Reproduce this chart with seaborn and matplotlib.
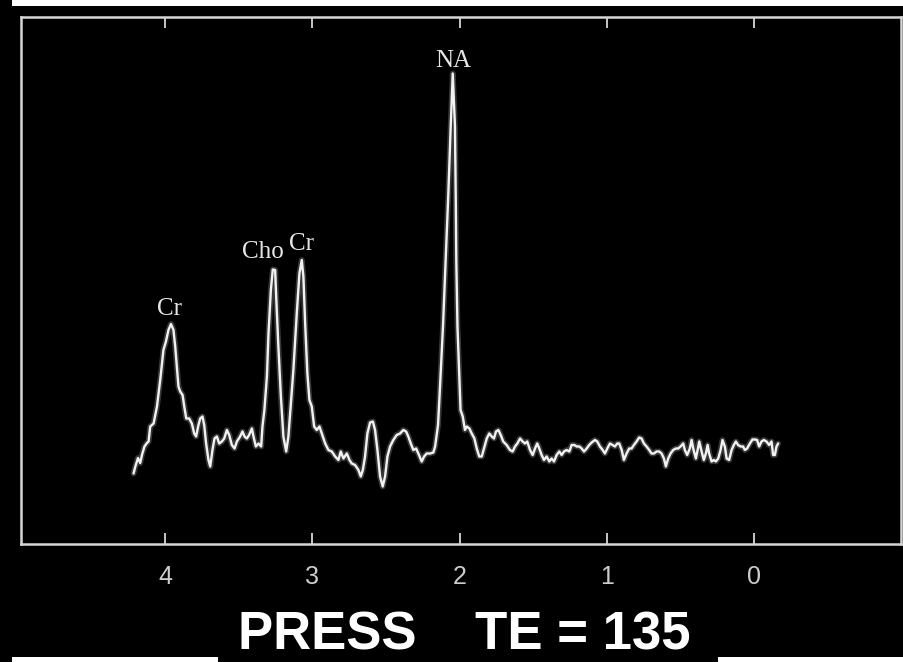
import matplotlib
matplotlib.use("Agg")
import matplotlib.pyplot as plt
import pandas as pd
import seaborn as sns
from matplotlib.patches import Rectangle

# Chemical shift (ppm) and signal amplitude (arbitrary units) of the spectrum
ppm = [
    4.215, 4.204, 4.185, 4.170, 4.158, 4.141, 4.124, 4.113, 4.102, 4.079,
    4.056, 4.045, 4.034, 4.022, 4.012, 3.995, 3.978, 3.961, 3.944, 3.932,
    3.921, 3.910, 3.898, 3.882, 3.869, 3.857, 3.837, 3.819, 3.803, 3.790,
    3.774, 3.762, 3.747, 3.735, 3.722, 3.706, 3.694, 3.679, 3.665, 3.649,
    3.633, 3.615, 3.599, 3.581, 3.565, 3.547, 3.529, 3.513, 3.491, 3.475,
    3.461, 3.445, 3.430, 3.411, 3.400, 3.384, 3.366, 3.348, 3.339, 3.326,
    3.309, 3.298, 3.282, 3.269, 3.253, 3.246, 3.231, 3.214, 3.197, 3.178,
    3.163, 3.146, 3.129, 3.106, 3.088, 3.072, 3.061, 3.049, 3.034, 3.020,
    3.004, 2.988, 2.970, 2.952, 2.936, 2.913, 2.891, 2.868, 2.845, 2.823,
    2.807, 2.789, 2.766, 2.748, 2.732, 2.710, 2.687, 2.671, 2.657, 2.642,
    2.626, 2.608, 2.589, 2.574, 2.558, 2.540, 2.522, 2.506, 2.490, 2.472,
    2.450, 2.427, 2.404, 2.382, 2.363, 2.348, 2.331, 2.314, 2.295, 2.280,
    2.257, 2.241, 2.223, 2.200, 2.178, 2.166, 2.146, 2.132, 2.112, 2.095,
    2.076, 2.060, 2.046, 2.031, 2.026, 2.022, 2.014, 2.001, 1.993, 1.978,
    1.963, 1.951, 1.933, 1.917, 1.899, 1.883, 1.866, 1.849, 1.834, 1.815,
    1.798, 1.781, 1.766, 1.752, 1.736, 1.720, 1.703, 1.680, 1.657, 1.639,
    1.623, 1.607, 1.589, 1.571, 1.555, 1.540, 1.521, 1.503, 1.487, 1.472,
    1.458, 1.442, 1.426, 1.408, 1.390, 1.374, 1.358, 1.340, 1.322, 1.306,
    1.290, 1.272, 1.254, 1.238, 1.220, 1.204, 1.186, 1.170, 1.154, 1.136,
    1.119, 1.102, 1.080, 1.064, 1.046, 1.027, 1.012, 0.996, 0.978, 0.960,
    0.944, 0.928, 0.915, 0.898, 0.883, 0.865, 0.847, 0.831, 0.815, 0.797,
    0.779, 0.763, 0.747, 0.729, 0.711, 0.695, 0.679, 0.661, 0.643, 0.627,
    0.611, 0.598, 0.582, 0.566, 0.548, 0.530, 0.514, 0.498, 0.480, 0.469,
    0.453, 0.435, 0.423, 0.412, 0.394, 0.382, 0.371, 0.355, 0.340, 0.326,
    0.314, 0.304, 0.287, 0.272, 0.258, 0.242, 0.226, 0.213, 0.197, 0.185,
    0.168, 0.151, 0.136, 0.122, 0.107, 0.090, 0.073, 0.061, 0.046, 0.027,
    0.009, -0.007, -0.022, -0.036, -0.052, -0.068, -0.086, -0.104, -0.120, -0.131,
    -0.143, -0.154, -0.165,
]
signal = [
    14.1, 15.4, 17.2, 16.2, 17.8, 19.5, 20.2, 20.5, 23.5, 24.1,
    27.5, 30.2, 32.8, 36.1, 38.8, 40.5, 42.8, 44.0, 42.8, 39.5,
    35.5, 31.5, 30.5, 29.8, 27.2, 25.1, 25.1, 24.1, 22.1, 21.5,
    23.8, 25.1, 25.5, 23.8, 20.1, 16.8, 15.5, 18.8, 21.1, 21.5,
    20.1, 20.5, 21.1, 22.8, 21.8, 19.8, 19.1, 20.5, 21.5, 22.5,
    21.5, 21.1, 21.8, 23.1, 21.5, 19.5, 20.1, 19.5, 23.5, 26.8,
    33.5, 42.2, 50.8, 54.9, 54.8, 49.5, 39.5, 29.5, 21.5, 18.5,
    21.5, 28.1, 34.8, 46.1, 54.1, 56.8, 53.5, 44.1, 34.1, 28.8,
    27.5, 23.5, 22.8, 23.5, 22.1, 20.1, 18.8, 18.5, 17.5, 16.8,
    18.5, 17.1, 18.1, 16.8, 16.1, 15.8, 14.8, 13.5, 14.8, 17.5,
    22.1, 24.3, 24.5, 22.8, 18.8, 13.5, 11.5, 13.5, 17.5, 19.5,
    20.8, 21.8, 22.1, 22.8, 22.5, 21.5, 20.1, 18.8, 19.1, 18.1,
    16.5, 17.5, 18.1, 18.1, 18.3, 19.5, 23.8, 31.8, 43.8, 56.4,
    70.1, 83.5, 94.1, 83.5, 70.1, 56.8, 43.5, 33.5, 26.8, 25.5,
    22.8, 23.5, 23.1, 22.1, 21.1, 19.1, 17.5, 17.5, 19.1, 21.1,
    22.1, 21.5, 21.1, 22.5, 22.8, 21.8, 20.5, 19.8, 18.8, 18.5,
    19.5, 20.1, 21.1, 20.5, 20.1, 20.5, 18.8, 17.8, 19.1, 20.1,
    19.1, 17.8, 16.8, 17.5, 16.5, 17.1, 16.5, 17.8, 18.5, 17.8,
    18.5, 18.8, 18.5, 19.8, 19.8, 19.5, 19.5, 19.1, 18.5, 19.1,
    19.8, 20.3, 20.8, 20.5, 19.5, 18.8, 18.1, 19.1, 20.1, 19.8,
    19.5, 20.1, 20.1, 18.8, 16.8, 18.1, 19.1, 19.1, 19.8, 20.5,
    21.3, 21.1, 20.1, 19.5, 18.8, 18.1, 18.1, 18.5, 18.5, 18.1,
    17.1, 15.5, 17.1, 18.1, 18.8, 19.1, 19.1, 19.5, 20.1, 18.8,
    17.8, 19.1, 20.8, 19.1, 17.1, 18.8, 20.5, 18.5, 16.8, 18.1,
    19.8, 18.1, 16.5, 16.8, 16.5, 17.1, 18.8, 20.8, 19.5, 17.1,
    16.8, 18.8, 19.8, 20.5, 19.8, 19.5, 19.5, 18.8, 19.1, 20.1,
    20.9, 20.9, 20.8, 19.5, 20.5, 20.8, 20.5, 19.8, 20.5, 17.8,
    17.8, 19.5, 20.1,
]

# Metabolite peak annotations
peak_names = ["Cr", "Cho", "Cr", "NA"]
peak_ppm = [3.971, 3.338, 3.072, 2.044]
peak_label_y = [45.8, 57.1, 58.8, 95.4]

tick_ppm = [4, 3, 2, 1, 0]
tick_labels = ["4", "3", "2", "1", "0"]
title_text = "PRESS    TE = 135"

sns.set_theme(style="white", rc={
    "figure.facecolor": "black",
    "axes.facecolor": "black",
    "savefig.facecolor": "black",
})
plt.rcParams["font.family"] = ["Liberation Sans", "DejaVu Sans"]

W, H = 904, 662
fig = plt.figure(figsize=(W / 100, H / 100), dpi=100)
ax = fig.add_axes([21 / W, 118 / H, 880 / W, 527 / H])
ax.set_facecolor("black")

df = pd.DataFrame({"ppm": ppm, "signal": signal})
# soft halo under the trace, then the trace itself
sns.lineplot(data=df, x="ppm", y="signal", sort=False, estimator=None,
             color="white", lw=4.2, alpha=0.22, ax=ax)
sns.lineplot(data=df, x="ppm", y="signal", sort=False, estimator=None,
             color="#f2f2f2", lw=1.7, ax=ax)

ax.set_xlim(4.98, -1.0)
ax.set_ylim(0, 105.4)
ax.set_xticks(tick_ppm, tick_labels)
ax.set_yticks([])
ax.set_xlabel("")
ax.set_ylabel("")
ax.tick_params(axis="x", direction="in", top=True, bottom=True,
               length=8, width=1.3, color="#d6d6d6", pad=15,
               labelsize=18, labelcolor="#cdcdcd")
for side in ["left", "right", "top", "bottom"]:
    ax.spines[side].set_visible(True)
    ax.spines[side].set_color("#d6d6d6")
    ax.spines[side].set_linewidth(1.8)

for name, xp, yp in zip(peak_names, peak_ppm, peak_label_y):
    ax.text(xp, yp, name, ha="center", va="baseline", fontsize=18,
            family=["Liberation Serif", "DejaVu Serif"], color="#e6e6e6")

fig.text(464 / W, 1 / H, title_text, ha="center", va="bottom",
         fontsize=38, fontweight="bold", color="white",
         family=["Liberation Sans", "DejaVu Sans"])

# white page margins around the scanned panel
fig.add_artist(Rectangle((11.5 / W, 1 - 5.5 / H), 1, 5.5 / H,
                         transform=fig.transFigure, color="white", lw=0))
fig.add_artist(Rectangle((11.5 / W, 0), (218 - 11.5) / W, 5 / H,
                         transform=fig.transFigure, color="white", lw=0))
fig.add_artist(Rectangle((718 / W, 0), (W - 718) / W, 5 / H,
                         transform=fig.transFigure, color="white", lw=0))

fig.savefig("out.png", dpi=100, facecolor="black")
